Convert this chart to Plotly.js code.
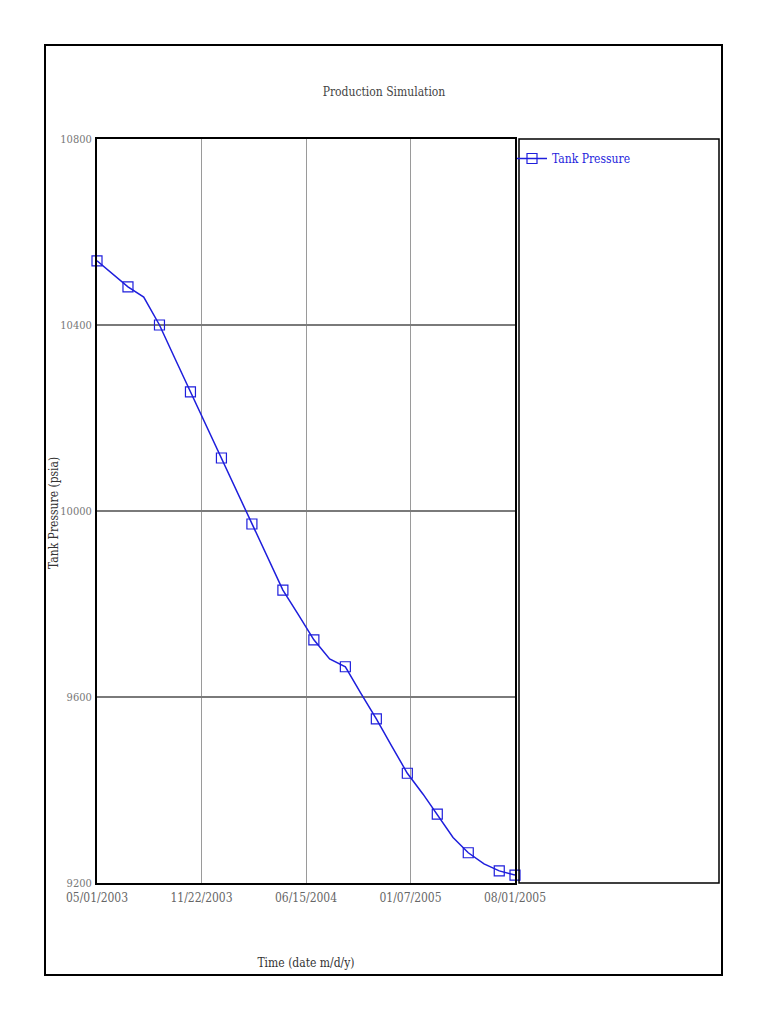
<!DOCTYPE html>
<html>
<head>
<meta charset="utf-8">
<script src="https://cdn.plot.ly/plotly-3.0.1.min.js"></script>
<style>
  html, body { margin: 0; padding: 0; background: #fff; }
  #chart { width: 768px; height: 1024px; }
</style>
</head>
<body>
<div id="chart"></div>
<script>
// monthly simulation output
months = [
  "2003-05-01", "2003-06-01", "2003-07-01", "2003-08-01", "2003-09-01", "2003-10-01", "2003-11-01",
  "2003-12-01", "2004-01-01", "2004-02-01", "2004-03-01", "2004-04-01", "2004-05-01", "2004-06-01",
  "2004-07-01", "2004-08-01", "2004-09-01", "2004-10-01", "2004-11-01", "2004-12-01", "2005-01-01",
  "2005-02-01", "2005-03-01", "2005-04-01", "2005-05-01", "2005-06-01", "2005-07-01", "2005-08-01"
]
tankPressure = [
  10538, 10510, 10482, 10460, 10400, 10329, 10256,
  10185, 10114, 10040, 9972, 9901, 9830, 9776,
  9723, 9682, 9665, 9609, 9553, 9495, 9436,
  9391, 9348, 9298, 9265, 9241, 9226, 9217
]

xTickVals = ["2003-05-01", "2003-11-22 18:00", "2004-06-15 12:00", "2005-01-07 06:00", "2005-08-01"]
xTickText = ["05/01/2003", "11/22/2003", "06/15/2004", "01/07/2005", "08/01/2005"]
yTickVals = [9200, 9600, 10000, 10400, 10800]

const blue = 'rgb(30,30,220)'
const font_ = 'DejaVu Serif Condensed, Liberation Mono, monospace'
const fs = 12

// markers only on every other month plus the last one
let markerColors = months.map((m, i) => (i % 2 === 0 || i === months.length - 1) ? blue : 'rgba(0,0,0,0)')

// plot area in pixels: x 97..515, y 139..883
const L = 97, R = 515, T = 139, B = 883
const W = R - L, H = B - T
px = (x) => (x - L) / W
py = (y) => (B - y) / H

Plotly.newPlot('chart', [{
  type: 'scatter',
  mode: 'lines+markers',
  name: 'Tank Pressure',
  x: months,
  y: tankPressure,
  line: { color: blue, width: 1.5 },
  marker: { symbol: 'square-open', size: 10, color: markerColors, line: { width: 1.2 } },
  cliponaxis: false
}], {
  width: 768,
  height: 1024,
  margin: { l: L, r: 768 - R, t: T, b: 1024 - B, pad: 0 },
  paper_bgcolor: '#fff',
  plot_bgcolor: '#fff',
  showlegend: true,
  title: {
    text: 'Production Simulation',
    x: 0.5, xref: 'container', xanchor: 'center',
    y: 1 - 92 / 1024, yref: 'container', yanchor: 'middle',
    font: { family: font_, size: fs, color: '#444' }
  },
  xaxis: {
    type: 'date',
    range: ['2003-05-01', '2005-08-01'],
    tickvals: xTickVals,
    ticktext: xTickText,
    ticks: '',
    ticklabelstandoff: 3,
    showgrid: true,
    gridcolor: '#9a9a9a',
    gridwidth: 1,
    showline: true, mirror: true, linecolor: '#000', linewidth: 2,
    zeroline: false,
    tickfont: { family: font_, size: fs, color: '#666' },
    title: { text: 'Time (date m/d/y)', standoff: 54, font: { family: font_, size: fs, color: '#333' } }
  },
  yaxis: {
    range: [9200, 10800],
    tickvals: yTickVals,
    tickformat: 'd',
    ticks: '',
    ticklabelstandoff: 1,
    showgrid: true,
    gridcolor: '#7a7a7a',
    gridwidth: 2,
    showline: true, mirror: true, linecolor: '#000', linewidth: 2,
    zeroline: false,
    tickfont: { family: font_, size: 11, color: '#777' }
  },
  annotations: [
    // y axis title, placed by hand so it sits between frame and tick labels
    { text: 'Tank Pressure (psia)', textangle: -90, showarrow: false,
      xref: 'paper', yref: 'paper', x: px(54), y: py(513), xanchor: 'center', yanchor: 'middle',
      font: { family: font_, size: fs, color: '#333' } }
  ],
  legend: {
    x: px(512), y: py(144), xanchor: 'left', yanchor: 'top',
    bgcolor: 'rgba(0,0,0,0)', borderwidth: 0,
    font: { family: font_, size: fs, color: blue }
  },
  shapes: [
    // outer frame
    { type: 'rect', xref: 'paper', yref: 'paper', x0: px(45), x1: px(722), y0: py(975), y1: py(45),
      line: { color: '#000', width: 2 } },
    // legend box
    { type: 'rect', xref: 'paper', yref: 'paper', x0: px(519), x1: px(719), y0: py(883), y1: py(139),
      line: { color: '#000', width: 1.5 } }
  ]
}, { staticPlot: true })
</script>
</body>
</html>
